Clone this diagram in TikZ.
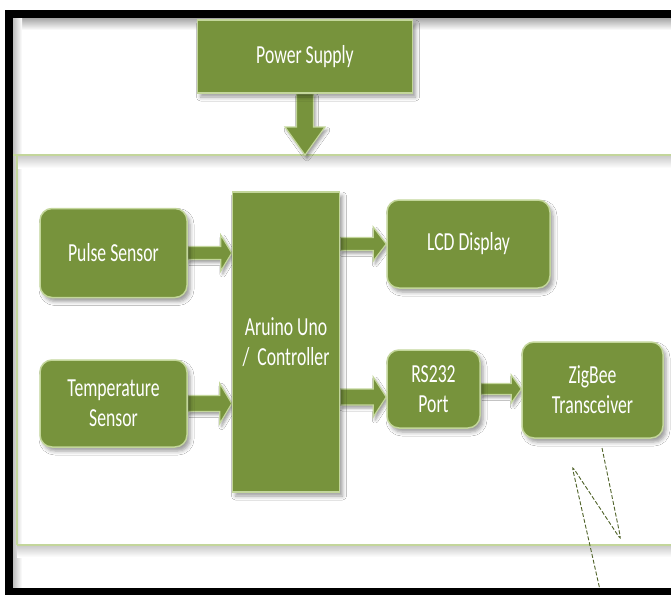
\documentclass[tikz,border=0pt]{standalone}
\usepackage{fontspec}
\newfontfamily\boxfont[FakeStretch=0.68]{Carlito}
\usetikzlibrary{calc,shadows.blur}

\definecolor{blockgreen}{RGB}{119,147,60}
\definecolor{edgegreen}{RGB}{195,214,155}
\definecolor{wiregreen}{RGB}{79,98,40}

\pgfdeclarelayer{background}
\pgfsetlayers{background,main}

\begin{document}
\begin{tikzpicture}[x=1pt,y=-1pt]
  \def\boxsize{\fontsize{26}{30}\selectfont}
  \tikzstyle{block} = [draw=edgegreen, fill=blockgreen, line width=1.5pt, text=white, align=center, inner sep=0pt, font=\boxfont\boxsize, blur shadow={shadow xshift=3pt, shadow yshift=-4pt, shadow blur radius=4pt}]
  \tikzstyle{roundblock} = [block, rounded corners=12pt]
  \tikzstyle{rule} = [edgegreen, line width=2pt]
  \tikzset{fatarrow/.style n args={3}{draw=edgegreen, fill=blockgreen, line width=1.2pt, line join=miter,
      blur shadow={shadow xshift=2pt, shadow yshift=-3pt, shadow blur radius=3pt},
      to path={($(\tikztostart)!#1!90:(\tikztotarget)$)
        -- ($(\tikztotarget)!#3!(\tikztostart)!#1!-90:(\tikztostart)$)
        -- ($(\tikztotarget)!#3!(\tikztostart)!#2!-90:(\tikztostart)$)
        -- (\tikztotarget)
        -- ($(\tikztotarget)!#3!(\tikztostart)!#2!90:(\tikztostart)$)
        -- ($(\tikztotarget)!#3!(\tikztostart)!#1!90:(\tikztostart)$)
        -- ($(\tikztostart)!#1!-90:(\tikztotarget)$) -- cycle}}}

  \useasboundingbox (0,0) rectangle (671,594);

  % blocks
  \node[block, minimum width=215pt, minimum height=73pt] (power) at (305,56.5) {Power Supply};
  \node[block, minimum width=107pt, minimum height=300pt] (ctrl) at (286,342) {Aruino Uno\\/~ Controller};
  \node[roundblock, minimum width=147pt, minimum height=89pt] (pulse) at (113.5,253) {Pulse Sensor};
  \node[roundblock, minimum width=147pt, minimum height=87pt] (temp) at (113.5,403.5) {Temperature\\Sensor};
  \node[roundblock, minimum width=163pt, minimum height=88pt] (lcd) at (468.5,244) {LCD Display};
  \node[roundblock, minimum width=93pt, minimum height=78pt] (rs) at (433.5,389) {RS232\\Port};
  \node[roundblock, minimum width=141pt, minimum height=96pt] (zig) at (592.5,390) {ZigBee\\Transceiver};

  \coordinate (upL) at (13,155);
  \coordinate (upR) at (671,155);
  \coordinate (lowL) at (17,545);
  \coordinate (lowR) at (671,545);
  \coordinate (rsin) at ([yshift=-8pt]rs.west);

  \begin{pgfonlayer}{background}
    \fill[white] (0,0) rectangle (671,594);
    % frame shadows and rules
    \shade[top color=black!35, bottom color=white] (13,18) rectangle (671,30);
    \shade[left color=black!25, right color=white] (13,18) rectangle (22,590);
    \shade[top color=black!20, bottom color=white] (17,156) rectangle (671,168);
    \shade[top color=black!20, bottom color=white] (17,546) rectangle (671,557);
    \draw[rule] (upL) -- (upR);
    \draw[rule] (lowL) -- (lowR);
    \draw[rule] (upL -| lowL) -- (lowL);

    % arrows
    \path[fatarrow={8.5pt}{20pt}{28pt}] (power.south) to (power.south |- upL);
    \path[fatarrow={6.5pt}{18pt}{11pt}] (pulse.east) to (pulse.east -| ctrl.west);
    \path[fatarrow={8pt}{20pt}{12pt}] (temp.east) to (temp.east -| ctrl.west);
    \path[fatarrow={6.5pt}{17pt}{13pt}] (lcd.west -| ctrl.east) to (lcd.west);
    \path[fatarrow={8pt}{20pt}{13pt}] (rsin -| ctrl.east) to (rsin);
    \path[fatarrow={5.5pt}{14pt}{10pt}] (rs.east) to (rs.east -| zig.west);
  \end{pgfonlayer}

  % antenna
  \coordinate (z1) at (602,448);
  \coordinate (z2) at (621,540);
  \coordinate (z3) at (572,466);
  \coordinate (z4) at (600,590);
  \draw[wiregreen, dash pattern=on 4pt off 2pt, line width=0.9pt, rounded corners=4pt] (z1) -- (z2) -- (z3) -- (z4);

  % frame
  \draw[line width=8pt, line join=miter] (671,14) -- (9,14) -- (9,592) -- (671,592);
\end{tikzpicture}
\end{document}
